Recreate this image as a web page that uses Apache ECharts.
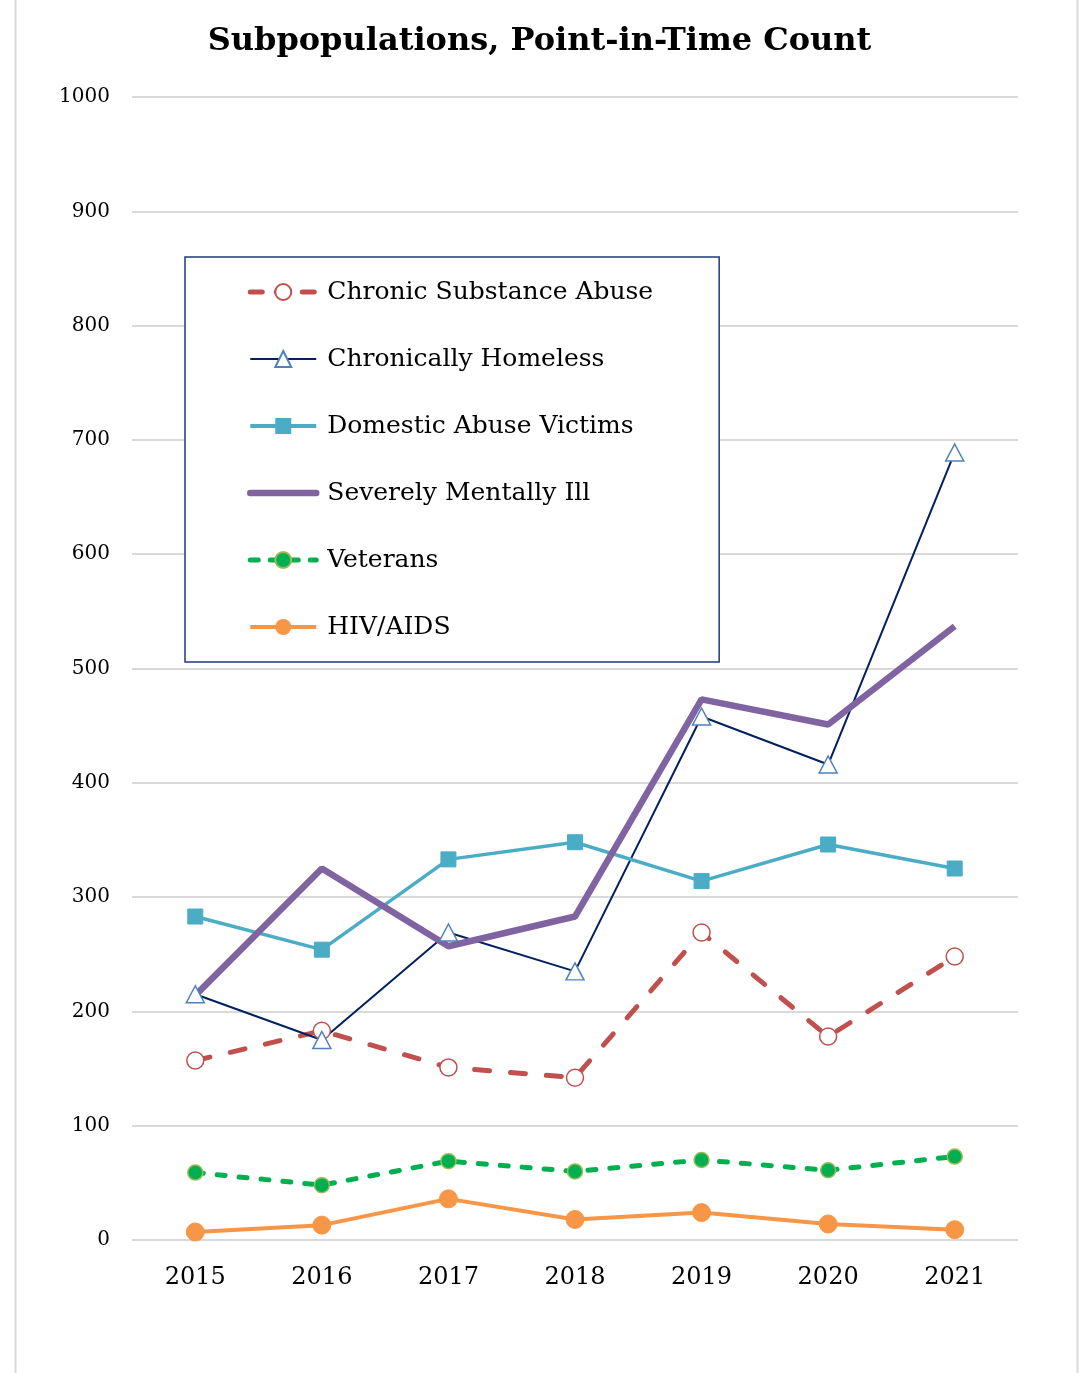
<!DOCTYPE html>
<html><head><meta charset="utf-8">
<script src="https://cdn.jsdelivr.net/npm/echarts@6/dist/echarts.min.js"></script>
<style>html,body{margin:0;padding:0;background:#fff}#c{width:1079px;height:1373px}</style>
</head><body><div id="c"></div>
<script>
const years = ['2015','2016','2017','2018','2019','2020','2021'];
const chronicSubstanceAbuse = [157, 183, 151, 142, 269, 178, 248];
const chronicallyHomeless = [215, 175, 269, 235, 458, 416, 689];
const domesticAbuseVictims = [283, 254, 333, 348, 314, 346, 325];
const severelyMentallyIll = [214, 325, 257, 283, 473, 451, 537];
const veterans = [59, 48, 69, 60, 70, 61, 73];
const hivAids = [7, 13, 36, 18, 24, 14, 9];
const yTicks = [0, 100, 200, 300, 400, 500, 600, 700, 800, 900, 1000];

const serif = '"DejaVu Serif", "Liberation Serif", serif';
const csaDash = {color: '#c0504d', width: 5, type: [15, 21], cap: 'round'};
const vetDash = {color: '#00b050', width: 5, type: [8, 14], cap: 'round'};
const chart = echarts.init(document.getElementById('c'));
chart.setOption({
  animation: false,
  backgroundColor: '#fff',
  graphic: [{
    type: 'rect', shape: {x: 15.5, y: -2, width: 1062, height: 1400},
    style: {fill: 'none', stroke: '#d9d9d9', lineWidth: 2}, z: -10
  }],
  title: {
    text: 'Subpopulations, Point-in-Time Count',
    left: 'center', top: 21,
    textStyle: {fontFamily: serif, fontWeight: 'bold', fontSize: 32, color: '#000'}
  },
  grid: {left: 132, right: 61, top: 97, bottom: 133, containLabel: false},
  xAxis: {
    type: 'category', data: years, boundaryGap: true,
    axisLine: {show: false}, axisTick: {show: false},
    axisLabel: {fontFamily: serif, fontSize: 24, color: '#000', margin: 26}
  },
  yAxis: {
    type: 'value', min: 0, max: 1000, interval: 100,
    axisLine: {show: false}, axisTick: {show: false},
    axisLabel: {fontFamily: serif, fontSize: 20, color: '#000', margin: 22,
      formatter: v => yTicks.includes(v) ? String(v) : ''},
    splitLine: {lineStyle: {color: '#d9d9d9', width: 2}}
  },
  legend: {
    orient: 'vertical', left: 185, top: 257,
    backgroundColor: '#fff', borderColor: '#1f3a7a', borderWidth: 1.5, borderRadius: 0,
    padding: [20, 66, 20, 62],
    itemWidth: 66, itemHeight: 20, itemGap: 37,
    textStyle: {fontFamily: serif, fontSize: 25, color: '#000', lineHeight: 30, padding: [0,0,0,6]},
    data: [
      {name: 'Chronic Substance Abuse', lineStyle: {width: 5, type: [12, 14], cap: 'round'}},
      {name: 'Chronically Homeless', lineStyle: {width: 2}},
      {name: 'Domestic Abuse Victims', lineStyle: {width: 4}},
      {name: 'Severely Mentally Ill', lineStyle: {width: 6.5, cap: 'round'}, itemStyle: {color: 'rgba(0,0,0,0)', borderWidth: 0}},
      {name: 'Veterans', lineStyle: {width: 5, type: [8, 12], cap: 'round'}},
      {name: 'HIV/AIDS', lineStyle: {width: 4}}
    ]
  },
  series: [
    {name: 'Chronic Substance Abuse', type: 'line', data: chronicSubstanceAbuse,
     symbol: 'circle', symbolSize: 17,
     lineStyle: csaDash,
     itemStyle: {color: '#fff', borderColor: '#c0504d', borderWidth: 1.5}, color: '#c0504d'},
    {name: 'Chronically Homeless', type: 'line', data: chronicallyHomeless,
     symbol: 'triangle', symbolSize: [18, 17],
     lineStyle: {color: '#002060', width: 2},
     itemStyle: {color: '#fff', borderColor: '#4f81bd', borderWidth: 1.5}, color: '#002060'},
    {name: 'Domestic Abuse Victims', type: 'line', data: domesticAbuseVictims,
     symbol: 'rect', symbolSize: 15,
     lineStyle: {color: '#4bacc6', width: 3.5},
     itemStyle: {color: '#4bacc6', borderColor: '#4bacc6'}, color: '#4bacc6'},
    {name: 'Severely Mentally Ill', type: 'line', data: severelyMentallyIll,
     symbol: 'none',
     lineStyle: {color: '#8064a2', width: 6.5},
     itemStyle: {color: '#8064a2'}, color: '#8064a2'},
    {name: 'Veterans', type: 'line', data: veterans,
     symbol: 'circle', symbolSize: 15,
     lineStyle: vetDash,
     itemStyle: {color: '#00b050', borderColor: '#9bbb59', borderWidth: 1.5}, color: '#00b050'},
    {name: 'HIV/AIDS', type: 'line', data: hivAids,
     symbol: 'circle', symbolSize: 18,
     lineStyle: {color: '#f79646', width: 4},
     itemStyle: {color: '#f79646', borderColor: '#f79646'}, color: '#f79646'}
  ]
});
</script></body></html>
